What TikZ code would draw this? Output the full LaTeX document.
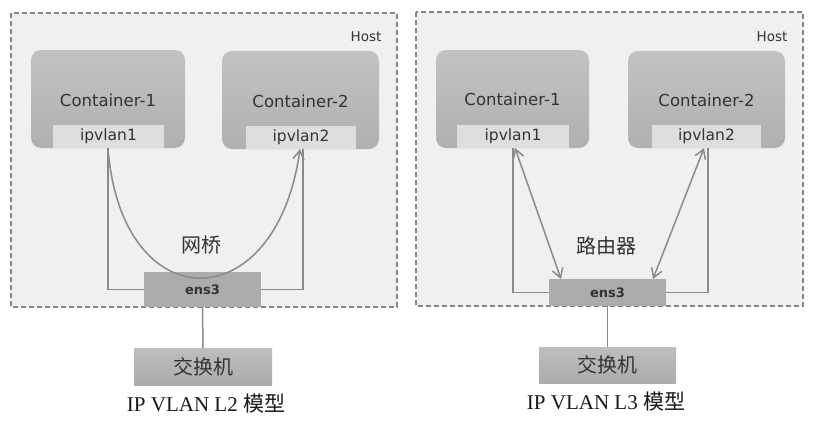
\documentclass[tikz,border=0pt]{standalone}
\usepackage{fontspec}
\setmainfont{Liberation Serif}
\newfontfamily\dvs{DejaVu Sans}
\newfontfamily\cjk{Noto Sans CJK SC}
\usetikzlibrary{arrows.meta}
\definecolor{hostbg}{HTML}{F0F0F0}
\definecolor{hostln}{HTML}{858585}
\definecolor{ctop}{HTML}{C2C2C2}
\definecolor{cbot}{HTML}{B0B0B0}
\definecolor{ipv}{HTML}{DEDEDE}
\definecolor{ensc}{HTML}{ACACAC}
\definecolor{swtop}{HTML}{BEBEBE}
\definecolor{swbot}{HTML}{ABABAB}
\definecolor{lnc}{HTML}{8A8A8A}
\definecolor{txt}{HTML}{333333}
\tikzset{
  hostbox/.style={draw=hostln, fill=hostbg, dashed, dash pattern=on 5pt off 3pt, line width=1.2pt},
  contbox/.style={draw=none, rounded corners=10pt, top color=ctop, bottom color=cbot, inner sep=0pt},
  ipvbox/.style={draw=none, fill=ipv, inner sep=0pt, minimum height=23pt, text=txt, font=\dvs\fontsize{15.5}{17}\selectfont},
  ensbox/.style={draw=none, fill=ensc, inner sep=0pt, text=txt, font=\dvs\bfseries\fontsize{13}{15}\selectfont},
  swbox/.style={draw=none, top color=swtop, bottom color=swbot, inner sep=0pt, text=txt, font=\cjk\fontsize{20}{22}\selectfont},
  conttext/.style={text=txt, font=\dvs\fontsize{16.5}{18}\selectfont},
  hosttext/.style={text=txt, font=\dvs\fontsize{13.5}{15}\selectfont},
  cjklabel/.style={text=txt, font=\cjk\fontsize{20}{22}\selectfont},
  caption/.style={text=black!90, font=\fontsize{21}{24}\selectfont},
  wire/.style={draw=lnc, line width=1.5pt},
  arr/.style={wire, arrows={Straight Barb[length=9pt,width=11pt,line width=1.5pt]-Straight Barb[length=9pt,width=11pt,line width=1.5pt]}},
  arrend/.style={wire, arrows={-Straight Barb[length=9pt,width=11pt,line width=1.5pt]}}
}
\begin{document}
\begin{tikzpicture}[x=1pt,y=-1pt]
\useasboundingbox (0,0) rectangle (816,426);
\fill[white] (0,0) rectangle (816,426);
% ---------------- Left: L2 ----------------
\draw[hostbox] (11,13) rectangle (397,307);
\node[hosttext] (hostA) at (366,37) {Host};
\node[contbox, minimum width=154pt, minimum height=98pt] (c1A) at (108,99) {};
\node[conttext] (c1At) at (108,100) {Container-1};
\node[ipvbox, minimum width=111pt] (i1A) at (108.5,136.5) {ipvlan1};
\node[contbox, minimum width=157pt, minimum height=98pt] (c2A) at (300.5,100) {};
\node[conttext] (c2At) at (300.5,101) {Container-2};
\node[ipvbox, minimum width=110pt] (i2A) at (301,137.5) {ipvlan2};
\node[ensbox, minimum width=117pt, minimum height=35pt] (eA) at (202.5,289.5) {ens3};
\node[swbox, minimum width=138pt, minimum height=37pt] (sA) at (203,366.5) {交换机};
\node[cjklabel] (brA) at (201,245) {网桥};
\node[caption] (capA) at (206,404) {IP VLAN L2 {\cjk 模型}};
\coordinate (a1) at (108,148);
\coordinate (a2) at (303,149);
\coordinate (a3) at (300,149);
\draw[wire] (a1) |- (eA.west);
\draw[wire] (a2) |- (eA.east);
\draw[arrend] (a1) .. controls (121,321) and (276,321) .. (a3);
\draw[wire] (eA.south) -- (sA.north);
% ---------------- Right: L3 ----------------
\draw[hostbox] (416,12) rectangle (803,306);
\node[hosttext] (hostB) at (772,37) {Host};
\node[contbox, minimum width=153pt, minimum height=98pt] (c1B) at (512.5,99) {};
\node[conttext] (c1Bt) at (512.5,99) {Container-1};
\node[ipvbox, minimum width=112pt] (i1B) at (513,136) {ipvlan1};
\node[contbox, minimum width=157pt, minimum height=97pt] (c2B) at (706.5,99.5) {};
\node[conttext] (c2Bt) at (706.5,100) {Container-2};
\node[ipvbox, minimum width=109pt] (i2B) at (706.5,136.5) {ipvlan2};
\node[ensbox, minimum width=117pt, minimum height=27pt] (eB) at (607.5,292.5) {ens3};
\node[swbox, minimum width=137pt, minimum height=36pt] (sB) at (607.5,365) {交换机};
\node[cjklabel] (rtB) at (606,246) {路由器};
\node[caption] (capB) at (606,402) {IP VLAN L3 {\cjk 模型}};
\coordinate (b1) at (513,148);
\coordinate (b2) at (708,148);
\coordinate (b3) at (515,148);
\coordinate (b4) at (561,279);
\coordinate (b5) at (704,148);
\coordinate (b6) at (653,279);
\draw[wire] (b1) |- (eB.west);
\draw[wire] (b2) |- (eB.east);
\draw[arr] (b3) -- (b4);
\draw[arr] (b5) -- (b6);
\draw[wire] (eB.south) -- (sB.north);
\end{tikzpicture}
\end{document}
